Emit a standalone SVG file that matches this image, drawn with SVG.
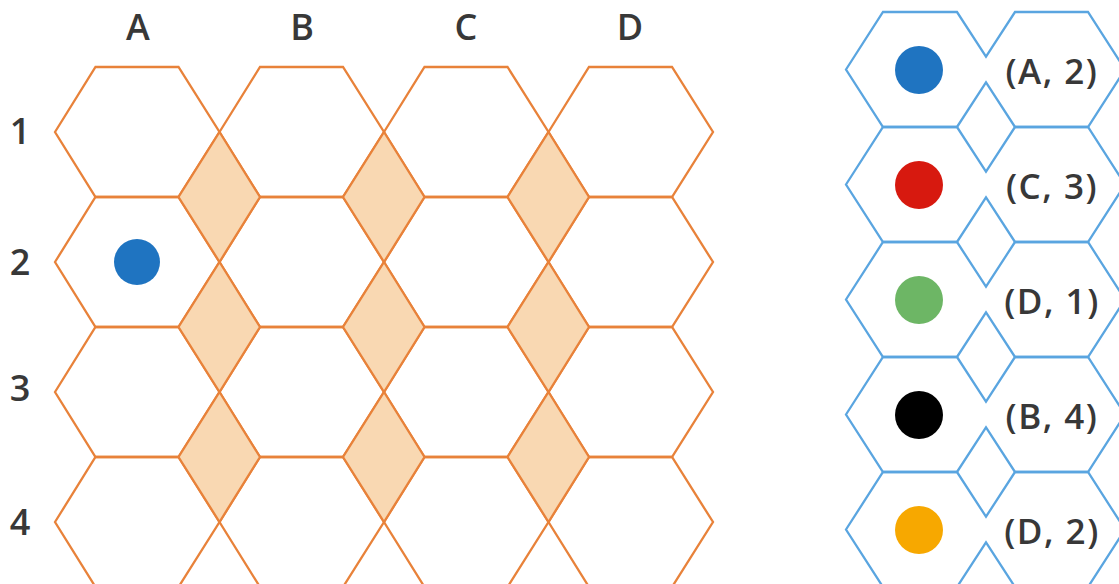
<svg xmlns="http://www.w3.org/2000/svg" width="1119" height="584" viewBox="0 0 1119 584">
<style>
.hex{fill:none;stroke:#E8823A;stroke-width:2.3;stroke-linejoin:miter}
.dia{fill:#F9D8B2;stroke:#E8823A;stroke-width:2.3}
.bhex{fill:none;stroke:#5AA5E0;stroke-width:2.3;stroke-linejoin:miter}
.lbl{font-family:"Open Sans","DejaVu Sans",sans-serif;font-weight:600;font-size:36px;fill:#383838;text-anchor:middle}
.lab{font-family:"Open Sans","DejaVu Sans",sans-serif;font-weight:600;font-size:35px;fill:#383838;text-anchor:middle;letter-spacing:1.5px}
</style>
<rect width="1119" height="584" fill="#fff"/>
<g id="grid">
<g id="hexes">
<polygon class="hex" points="55,132 95.5,67 178.5,67 219.5,132 178.5,197 95.5,197"/>
<polygon class="hex" points="219.5,132 260,67 343,67 384,132 343,197 260,197"/>
<polygon class="hex" points="384,132 424.5,67 507.5,67 548.5,132 507.5,197 424.5,197"/>
<polygon class="hex" points="548.5,132 589,67 672,67 713,132 672,197 589,197"/>
<polygon class="hex" points="55,262 95.5,197 178.5,197 219.5,262 178.5,327 95.5,327"/>
<polygon class="hex" points="219.5,262 260,197 343,197 384,262 343,327 260,327"/>
<polygon class="hex" points="384,262 424.5,197 507.5,197 548.5,262 507.5,327 424.5,327"/>
<polygon class="hex" points="548.5,262 589,197 672,197 713,262 672,327 589,327"/>
<polygon class="hex" points="55,392 95.5,327 178.5,327 219.5,392 178.5,457 95.5,457"/>
<polygon class="hex" points="219.5,392 260,327 343,327 384,392 343,457 260,457"/>
<polygon class="hex" points="384,392 424.5,327 507.5,327 548.5,392 507.5,457 424.5,457"/>
<polygon class="hex" points="548.5,392 589,327 672,327 713,392 672,457 589,457"/>
<polygon class="hex" points="55,522 95.5,457 178.5,457 219.5,522 178.5,587 95.5,587"/>
<polygon class="hex" points="219.5,522 260,457 343,457 384,522 343,587 260,587"/>
<polygon class="hex" points="384,522 424.5,457 507.5,457 548.5,522 507.5,587 424.5,587"/>
<polygon class="hex" points="548.5,522 589,457 672,457 713,522 672,587 589,587"/>
</g>
<g id="diamonds">
<polygon class="dia" points="219.5,132 260,197 219.5,262 178.5,197"/>
<polygon class="dia" points="384,132 424.5,197 384,262 343,197"/>
<polygon class="dia" points="548.5,132 589,197 548.5,262 507.5,197"/>
<polygon class="dia" points="219.5,262 260,327 219.5,392 178.5,327"/>
<polygon class="dia" points="384,262 424.5,327 384,392 343,327"/>
<polygon class="dia" points="548.5,262 589,327 548.5,392 507.5,327"/>
<polygon class="dia" points="219.5,392 260,457 219.5,522 178.5,457"/>
<polygon class="dia" points="384,392 424.5,457 384,522 343,457"/>
<polygon class="dia" points="548.5,392 589,457 548.5,522 507.5,457"/>
</g>
<g id="labels">
<text class="lbl" x="138" y="40">A</text>
<text class="lbl" x="302" y="40">B</text>
<text class="lbl" x="466" y="40">C</text>
<text class="lbl" x="630" y="40">D</text>
<text class="lbl" x="20" y="144">1</text>
<text class="lbl" x="20" y="275">2</text>
<text class="lbl" x="20" y="401">3</text>
<text class="lbl" x="20" y="535">4</text>
</g>
<circle id="piece" cx="137" cy="262" r="23" fill="#1F74C1"/>
</g>
<g id="legend">
<g id="legend-outline">
<path class="bhex" d="M846,69.5 L883,12 L957,12 L986,56.7 L1015,12 L1088,12 L1125,69.5 L1088,127 L1015,127 L986,82.3 L957,127 L883,127 Z"/>
<path class="bhex" d="M846,184.5 L883,127 L957,127 L986,171.7 L1015,127 L1088,127 L1125,184.5 L1088,242 L1015,242 L986,197.3 L957,242 L883,242 Z"/>
<path class="bhex" d="M846,299.5 L883,242 L957,242 L986,286.7 L1015,242 L1088,242 L1125,299.5 L1088,357 L1015,357 L986,312.3 L957,357 L883,357 Z"/>
<path class="bhex" d="M846,414.5 L883,357 L957,357 L986,401.7 L1015,357 L1088,357 L1125,414.5 L1088,472 L1015,472 L986,427.3 L957,472 L883,472 Z"/>
<path class="bhex" d="M846,529.5 L883,472 L957,472 L986,516.7 L1015,472 L1088,472 L1125,529.5 L1088,587 L1015,587 L986,542.3 L957,587 L883,587 Z"/>
</g>
<g id="item-1"><circle cx="919" cy="70" r="24" fill="#1F74C1"/><text class="lab" x="1052" y="84">(A, 2)</text></g>
<g id="item-2"><circle cx="919" cy="185" r="24" fill="#D7190F"/><text class="lab" x="1052" y="199">(C, 3)</text></g>
<g id="item-3"><circle cx="919" cy="300" r="24" fill="#6DB665"/><text class="lab" x="1052" y="314">(D, 1)</text></g>
<g id="item-4"><circle cx="919" cy="415" r="24" fill="#000"/><text class="lab" x="1052" y="429">(B, 4)</text></g>
<g id="item-5"><circle cx="919" cy="530" r="24" fill="#F7A800"/><text class="lab" x="1052" y="544">(D, 2)</text></g>
</g>
</svg>
